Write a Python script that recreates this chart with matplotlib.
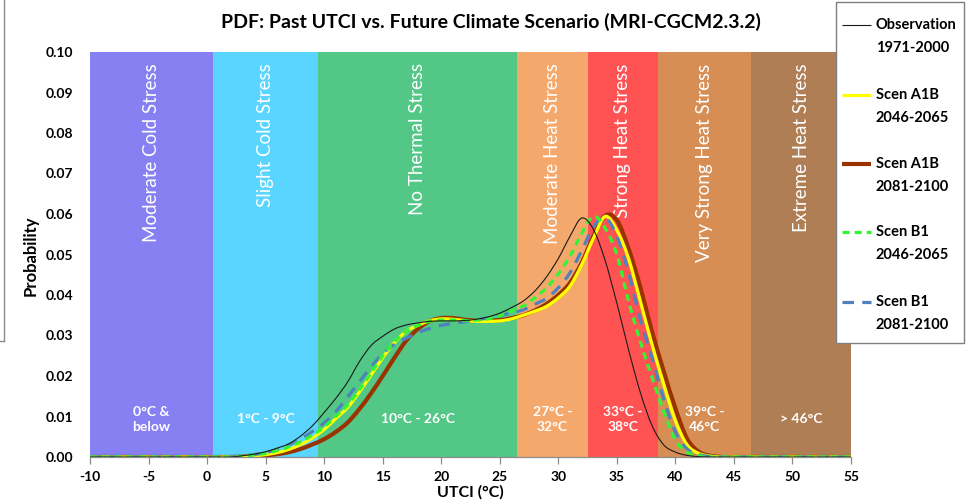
import numpy as np
import matplotlib
matplotlib.use("Agg")
import matplotlib.pyplot as plt
from matplotlib.path import Path
from matplotlib.patches import PathPatch, Rectangle
from matplotlib.lines import Line2D

plt.rcParams["font.family"] = ["Lato", "DejaVu Sans"]
plt.rcParams["axes.unicode_minus"] = False

# ---- data -------------------------------------------------------------
utci = list(range(-10, 56))  # °C, 1-degree steps

obs_1971_2000 = [0] * 13 + [
    0.0003, 0.0007, 0.0013, 0.0022, 0.0033, 0.0052, 0.0077,            # 3..9
    0.0110, 0.0145, 0.0185, 0.0235, 0.0275, 0.0298, 0.0316, 0.0326,    # 10..17
    0.0331, 0.0335, 0.0336, 0.0336, 0.0337, 0.0340, 0.0346, 0.0355,    # 18..25
    0.0369, 0.0385, 0.0410, 0.0445, 0.0490, 0.0545, 0.0590, 0.0562,    # 26..33
    0.0485, 0.0380, 0.0265, 0.0160, 0.0078, 0.0030, 0.0012, 0.0004,    # 34..41
    0.0001] + [0] * 13                                                  # 42..55

a1b_2046_2065 = [0] * 13 + [
    0.0001, 0.0003, 0.0006, 0.0011, 0.0019, 0.0031, 0.0047,
    0.0068, 0.0095, 0.0122, 0.0160, 0.0202, 0.0245, 0.0282, 0.0310,
    0.0325, 0.0336, 0.0341, 0.0340, 0.0337, 0.0335, 0.0335, 0.0336,
    0.0341, 0.0350, 0.0360, 0.0372, 0.0393, 0.0422, 0.0475, 0.0540,
    0.0594, 0.0560, 0.0490, 0.0385, 0.0278, 0.0180, 0.0090, 0.0030,
    0.0009, 0.0002] + [0] * 12

a1b_2081_2100 = [0] * 13 + [
    0.0001, 0.0002, 0.0004, 0.0007, 0.0012, 0.0020, 0.0031,
    0.0044, 0.0062, 0.0085, 0.0118, 0.0157, 0.0200, 0.0245, 0.0287,
    0.0316, 0.0335, 0.0343, 0.0343, 0.0339, 0.0337, 0.0337, 0.0338,
    0.0343, 0.0350, 0.0362, 0.0378, 0.0400, 0.0430, 0.0480, 0.0545,
    0.0596, 0.0585, 0.0515, 0.0420, 0.0310, 0.0212, 0.0120, 0.0045,
    0.0013, 0.0003] + [0] * 12

b1_2046_2065 = [0] * 13 + [
    0.0002, 0.0005, 0.0009, 0.0016, 0.0025, 0.0038, 0.0054,
    0.0074, 0.0101, 0.0128, 0.0166, 0.0207, 0.0250, 0.0284, 0.0310,
    0.0325, 0.0335, 0.0338, 0.0338, 0.0337, 0.0338, 0.0341, 0.0349,
    0.0361, 0.0373, 0.0393, 0.0418, 0.0452, 0.0496, 0.0552, 0.0594,
    0.0565, 0.0500, 0.0385, 0.0285, 0.0197, 0.0113, 0.0042, 0.0012,
    0.0003] + [0] * 13

b1_2081_2100 = [0] * 13 + [
    0.0003, 0.0006, 0.0011, 0.0019, 0.0030, 0.0045, 0.0063,
    0.0084, 0.0112, 0.0148, 0.0185, 0.0222, 0.0255, 0.0278, 0.0293,
    0.0307, 0.0317, 0.0325, 0.0330, 0.0334, 0.0339, 0.0343, 0.0349,
    0.0356, 0.0363, 0.0377, 0.0392, 0.0418, 0.0455, 0.0510, 0.0568,
    0.0591, 0.0545, 0.0455, 0.0340, 0.0245, 0.0143, 0.0062, 0.0020,
    0.0006, 0.0001] + [0] * 12

band_edges = [-10, 0.5, 9.5, 26.5, 32.5, 38.5, 46.5, 55]
band_names = ["Moderate Cold Stress", "Slight Cold Stress", "No Thermal Stress",
              "Moderate Heat Stress", "Strong Heat Stress",
              "Very Strong Heat Stress", "Extreme Heat Stress"]
band_ranges = ["0°C &\nbelow", "1°C - 9°C", "10°C - 26°C", "27°C -\n32°C",
               "33°C -\n38°C", "39°C -\n46°C", "> 46°C"]
band_colors = ["#8780f2", "#5ad5ff", "#52c786", "#f5a86b", "#ff5353",
               "#d68e55", "#b07e54"]

series = [
    ("Observation", "1971-2000", obs_1971_2000,
     dict(color="#1a1a1a", lw=0.8, ls="-", z=7)),
    ("Scen A1B", "2046-2065", a1b_2046_2065,
     dict(color="#ffff00", lw=2.3, ls="-", z=4)),
    ("Scen A1B", "2081-2100", a1b_2081_2100,
     dict(color="#993300", lw=3.0, ls="-", z=3)),
    ("Scen B1", "2046-2065", b1_2046_2065,
     dict(color="#33f533", lw=2.3, ls=(0, (2.2, 1.6)), z=6)),
    ("Scen B1", "2081-2100", b1_2081_2100,
     dict(color="#4f81bd", lw=2.3, ls=(0, (3.6, 2.6)), z=5)),
]


def smooth_path(x, y):
    """Cubic Bezier path through the points (Catmull-Rom style smoothing)."""
    p = np.column_stack([x, y]).astype(float)
    n = len(p)
    verts = [p[0]]
    codes = [Path.MOVETO]
    for i in range(n - 1):
        p0 = p[i - 1] if i > 0 else p[i]
        p1, p2 = p[i], p[i + 1]
        p3 = p[i + 2] if i + 2 < n else p[i + 1]
        c1 = p1 + (p2 - p0) / 6.0
        c2 = p2 - (p3 - p1) / 6.0
        verts += [c1, c2, p2]
        codes += [Path.CURVE4] * 3
    return Path(np.array(verts), codes)


# ---- figure -----------------------------------------------------------
W, H = 975, 501
fig = plt.figure(figsize=(W / 100, H / 100), dpi=100)
ax = fig.add_axes([90 / W, 1 - 457 / H, (851 - 90) / W, (457 - 52) / H])

for i, col in enumerate(band_colors):
    lo, hi = band_edges[i], band_edges[i + 1]
    ax.axvspan(lo, hi, color=col, lw=0, zorder=0)
    mid = (lo + hi) / 2
    ax.text(mid, 0.0972, band_names[i], rotation=90, ha="center", va="top",
            color="white", fontsize=13.5, zorder=1)
    ax.text(mid, 0.0093, band_ranges[i], ha="center", va="center",
            color="white", fontsize=10, fontweight="bold", linespacing=1.3,
            zorder=1)

for name, period, vals, st in series:
    patch = PathPatch(smooth_path(utci, vals), fill=False, edgecolor=st["color"],
                      lw=st["lw"], linestyle=st["ls"], zorder=st["z"],
                      capstyle="butt", joinstyle="round")
    ax.add_patch(patch)

ax.set_xlim(-10, 55)
ax.set_ylim(0, 0.10)
ax.set_xticks(range(-10, 56, 5))
ax.set_yticks(np.arange(0, 0.101, 0.01))
ax.yaxis.set_major_formatter(matplotlib.ticker.FormatStrFormatter("%.2f"))
for s in ("top", "right", "left"):
    ax.spines[s].set_visible(False)
ax.spines["bottom"].set_color("#8c8c8c")
ax.spines["bottom"].set_linewidth(0.9)
ax.spines["bottom"].set_zorder(8)
ax.tick_params(axis="x", direction="out", length=5, width=0.9, color="#8c8c8c",
               pad=5, labelsize=10)
ax.tick_params(axis="y", length=0, pad=12, labelsize=10)
for lab in ax.get_xticklabels() + ax.get_yticklabels():
    lab.set_fontweight("bold")

fig.text(31 / W, 1 - 256 / H, "Probability", rotation=90, ha="center",
         va="center", fontsize=12, fontweight="bold")
fig.text(470 / W, 1 - 492 / H, "UTCI (°C)", ha="center", va="center",
         fontsize=11.5, fontweight="bold")
fig.text(491 / W, 1 - 22 / H,
         "PDF: Past UTCI vs. Future Climate Scenario (MRI-CGCM2.3.2)",
         ha="center", va="center", fontsize=14, fontweight="bold")

# legend panel
fig.add_artist(Rectangle((836 / W, 1 - 343 / H), 128 / W, 341 / H,
                         transform=fig.transFigure, facecolor="white",
                         edgecolor="#7f7f7f", lw=1.0, zorder=10))
entry_y = [25, 95, 164, 232, 302]
for (name, period, vals, st), yp in zip(series, entry_y):
    fig.add_artist(Line2D([842 / W, 871 / W], [1 - yp / H, 1 - yp / H],
                          transform=fig.transFigure, color=st["color"],
                          lw=st["lw"], linestyle=st["ls"],
                          solid_capstyle="butt", dash_capstyle="butt",
                          zorder=11))
    fig.text(876 / W, 1 - yp / H, name, ha="left", va="center",
             fontsize=10.5, fontweight="bold", zorder=12)
    fig.text(876 / W, 1 - (yp + 23) / H, period, ha="left", va="center",
             fontsize=10.5, fontweight="bold", zorder=12)

# edge of the neighbouring panel on the left
fig.add_artist(Line2D([3.5 / W, 3.5 / W], [1.0, 1 - 341 / H],
                      transform=fig.transFigure, color="#8c8c8c", lw=1.0))
fig.add_artist(Line2D([0, 3.5 / W], [1 - 341 / H, 1 - 341 / H],
                      transform=fig.transFigure, color="#8c8c8c", lw=1.0))

fig.savefig("out.png", dpi=100)
